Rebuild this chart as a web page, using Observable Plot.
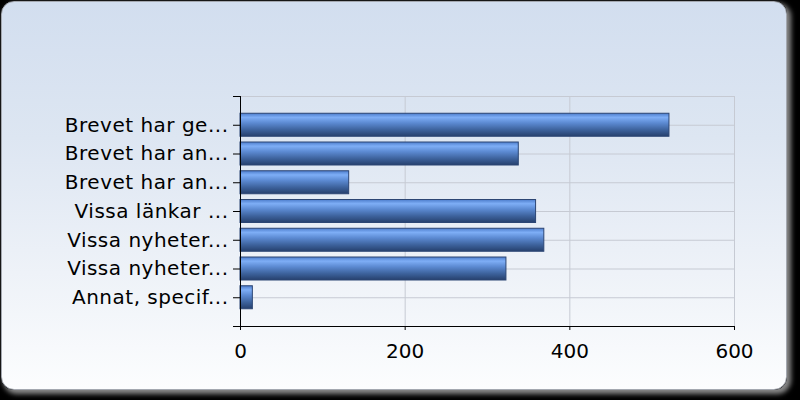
<!DOCTYPE html>
<html>
<head>
<meta charset="utf-8">
<script src="https://cdn.jsdelivr.net/npm/d3@7"></script>
<script src="https://cdn.jsdelivr.net/npm/@observablehq/plot@0.6"></script>
<style>
  html, body { margin: 0; padding: 0; background: #000; }
  #wrap { position: relative; width: 800px; height: 400px; overflow: hidden; background: #000; }
  #panel {
    position: absolute; left: 1px; top: 1px; width: 784px; height: 387px;
    border-radius: 13px; border: 1px solid #a4a8b0;
    background: linear-gradient(to bottom, #d2deef 0%, #dde6f2 35%, #eef2f8 70%, #fcfdfe 100%);
    box-shadow: 3px 3px 5px 1px #8a8a8a;
  }
  #chart { position: absolute; left: 0; top: 0; }
  g[aria-label="y-axis tick label"] text { letter-spacing: 0.5px; }
</style>
</head>
<body>
<div id="wrap"><div id="panel"></div><div id="chart"></div></div>
<script>
const categories = [
  "Brevet har ge...",
  "Brevet har an...",
  "Brevet har an...",
  "Vissa länkar ...",
  "Vissa nyheter...",
  "Vissa nyheter...",
  "Annat, specif..."
];
const values = [521, 338, 132, 359, 369, 323, 15];
const xTicks = [0, 200, 400, 600];

const data = categories.map((c, i) => ({i, label: c, value: values[i]}));
const yTicks = d3.range(-1, categories.length + 1);
const half = 0.4;

const plot = Plot.plot({
  width: 800,
  height: 400,
  marginLeft: 240,
  marginRight: 66,
  marginTop: 96,
  marginBottom: 74,
  style: {background: "transparent", fontFamily: "DejaVu Sans", color: "#000", overflow: "visible"},
  x: {domain: [0, 600]},
  y: {domain: [-1, categories.length], reverse: true},
  marks: [
    Plot.ruleX(xTicks.slice(1), {stroke: "#c6cad3", strokeOpacity: 1}),
    Plot.ruleY(yTicks.slice(0, -1), {stroke: "#c6cad3", strokeOpacity: 1}),
    Plot.rectX(data, {
      x: "value",
      y1: d => d.i - half,
      y2: d => d.i + half,
      fill: "url(#barGrad)",
      stroke: "#2c4674",
      strokeWidth: 1
    }),
    Plot.ruleX([0], {stroke: "#000"}),
    Plot.ruleY([categories.length], {stroke: "#000"}),
    Plot.axisY({
      ticks: yTicks,
      tickFormat: i => categories[i] ?? "",
      tickSize: 7,
      tickPadding: 5,
      fontSize: 20,
      fill: "#000",
      stroke: "#000",
      strokeOpacity: 1,
      label: null
    }),
    Plot.axisX({
      ticks: xTicks,
      tickFormat: d => String(d),
      tickSize: 4,
      tickPadding: 13,
      fontSize: 20,
      fill: "#000",
      stroke: "#000",
      strokeOpacity: 1,
      label: null
    })
  ]
});

const svg = d3.select(plot);
const defs = svg.insert("defs", ":first-child");
const g = defs.append("linearGradient").attr("id", "barGrad")
  .attr("x1", 0).attr("y1", 0).attr("x2", 0).attr("y2", 1);
[
  [0, "#4d7dcc"],
  [0.18, "#7eaef6"],
  [0.42, "#5c8ad2"],
  [0.72, "#3d629c"],
  [1, "#26406d"]
].forEach(([o, c]) => g.append("stop").attr("offset", o).attr("stop-color", c));

document.getElementById("chart").appendChild(plot);
</script>
</body>
</html>
